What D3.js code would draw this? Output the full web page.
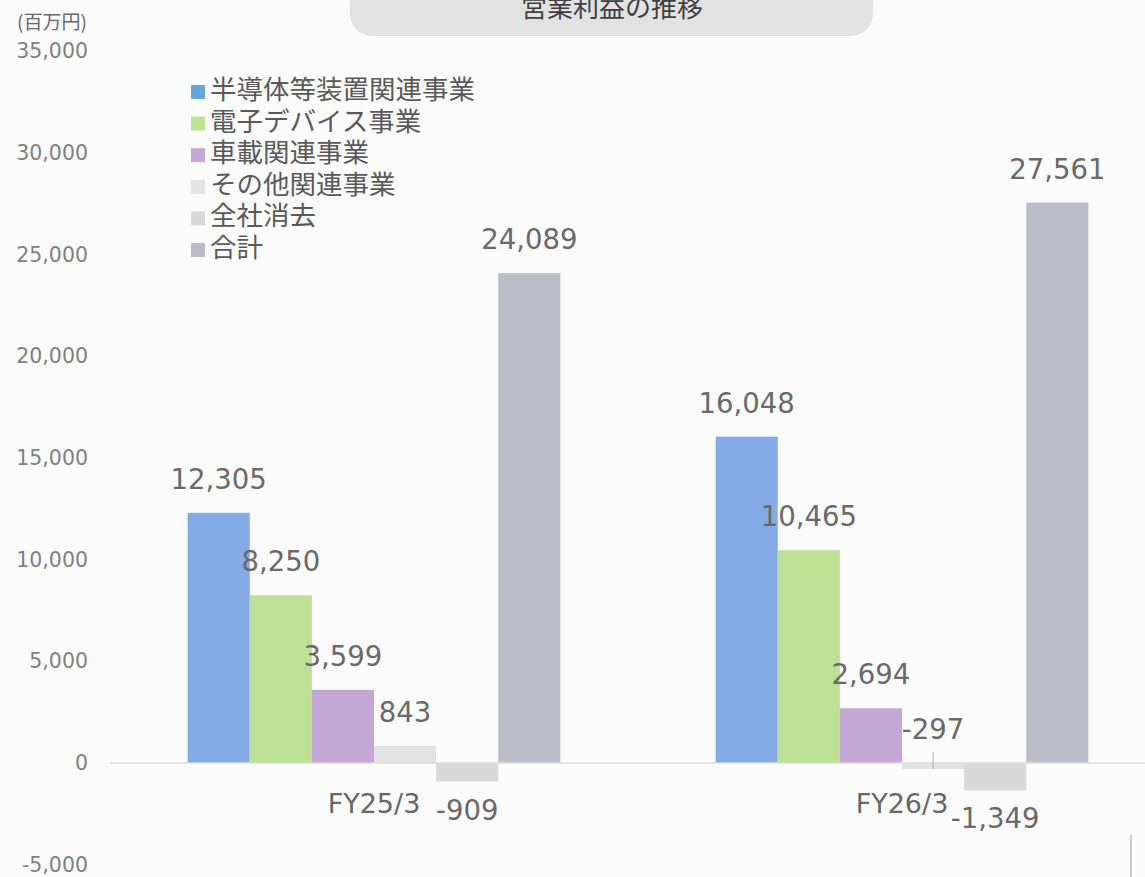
<!DOCTYPE html>
<html><head><meta charset="utf-8">
<script src="https://cdn.jsdelivr.net/npm/d3@7"></script>
<style>
html,body{margin:0;padding:0;background:#fcfcfc;}
svg{display:block;}
</style></head>
<body>
<script>
const categories = ["FY25/3", "FY26/3"];
const seriesNames = ["半導体等装置関連事業", "電子デバイス事業", "車載関連事業", "その他関連事業", "全社消去", "合計"];
const semiconductor = [12305, 16048];
const electronicDevices = [8250, 10465];
const automotive = [3599, 2694];
const otherBusiness = [843, -297];
const elimination = [-909, -1349];
const total = [24089, 27561];
const yTicks = [-5000, 0, 5000, 10000, 15000, 20000, 25000, 30000, 35000];
const barColors = ["#84abe6", "#bde295", "#c4a9d6", "#e3e3e3", "#d9d9d9", "#bbbec7"];
const legendColors = ["#63a7d9", "#bde396", "#c5a9d6", "#e4e4e4", "#d9d9d9", "#babdc6"];

const seriesValues = [semiconductor, electronicDevices, automotive, otherBusiness, elimination, total];

const W = 1145, H = 877;
const svg = d3.select("body").append("svg").attr("width", W).attr("height", H);
svg.append("rect").attr("width", W).attr("height", H).attr("fill", "#fcfcfc");

const fmt = d3.formatLocale({decimal: ".", thousands: ",", grouping: [3], currency: ["", ""], minus: "-"}).format(",");

const y = d3.scaleLinear().domain([-5000, 35000]).range([864.7, 51.3]);
const x0 = d3.scaleBand().domain(categories).range([110, 1166]).paddingInner(0.294).paddingOuter(0.147);
const x1 = d3.scaleBand().domain(seriesNames).range([0, x0.bandwidth()]);

// title pill
svg.append("rect").attr("x", 350).attr("y", -40).attr("width", 523).attr("height", 76)
  .attr("rx", 22).attr("fill", "#e3e3e3");
svg.append("text").attr("x", 612).attr("y", 17).attr("text-anchor", "middle")
  .attr("font-family", "'Noto Sans CJK JP'").attr("font-size", 26).attr("fill", "#404040")
  .text("営業利益の推移");

// unit label
svg.append("text").attr("x", 17).attr("y", 29)
  .attr("font-family", "'Noto Sans CJK JP'").attr("font-size", 19).attr("fill", "#666")
  .text("(百万円)");

// y axis
const yAxis = svg.append("g").attr("transform", "translate(96,0)")
  .call(d3.axisLeft(y).tickValues(yTicks).tickSize(0).tickPadding(8).tickFormat(fmt));
yAxis.select(".domain").remove();
yAxis.selectAll("text").attr("font-family", "'DejaVu Sans'").attr("font-size", 20.5).attr("fill", "#808080");

// bars
const rows = [];
categories.forEach((c, ci) => {
  seriesNames.forEach((s, si) => rows.push({cat: c, series: s, si, value: seriesValues[si][ci]}));
});

svg.append("g").selectAll("rect").data(rows).join("rect")
  .attr("x", d => x0(d.cat) + x1(d.series))
  .attr("y", d => y(Math.max(0, d.value)))
  .attr("width", x1.bandwidth())
  .attr("height", d => Math.abs(y(d.value) - y(0)))
  .attr("fill", d => barColors[d.si]);

// zero line
svg.append("line").attr("x1", 110).attr("x2", W).attr("y1", y(0)).attr("y2", y(0))
  .attr("stroke", "#dedede").attr("stroke-width", 1.5);

// x axis labels
const xAxis = svg.append("g").attr("transform", `translate(0,${y(0)})`)
  .call(d3.axisBottom(x0).tickSize(0).tickPadding(31));
xAxis.select(".domain").remove();
xAxis.selectAll("text").attr("font-family", "'DejaVu Sans'").attr("font-size", 27).attr("fill", "#666");

// leader line for small negative label
rows.filter(d => d.value < 0 && d.value > -500).forEach(d => {
  const cx = x0(d.cat) + x1(d.series) + x1.bandwidth() / 2;
  svg.append("line").attr("x1", cx).attr("x2", cx).attr("y1", y(0) - 11).attr("y2", y(0) + 6)
    .attr("stroke", "#aaaaaa").attr("stroke-width", 1);
});

// value labels
svg.append("g").selectAll("text").data(rows).join("text")
  .attr("x", d => x0(d.cat) + x1(d.series) + x1.bandwidth() / 2)
  .attr("y", d => {
    if (d.value < -500) return y(d.value) + 38;
    return y(Math.max(0, d.value)) - 24;
  })
  .attr("text-anchor", "middle")
  .attr("font-family", "'DejaVu Sans'").attr("font-size", 27.5).attr("fill", "#696969")
  .text(d => fmt(d.value));

// legend
const legend = svg.append("g");
seriesNames.forEach((s, i) => {
  const cy = 92 + i * 31.6;
  legend.append("rect").attr("x", 191).attr("y", cy - 7).attr("width", 14).attr("height", 14)
    .attr("fill", legendColors[i]);
  legend.append("text").attr("x", 210).attr("y", cy + 7)
    .attr("font-family", "'Noto Sans CJK JP'").attr("font-size", 26.5).attr("fill", "#595959")
    .text(s);
});

// stray vertical mark at lower right
svg.append("line").attr("x1", 1131).attr("x2", 1131).attr("y1", 835).attr("y2", H)
  .attr("stroke", "#9a9a9a").attr("stroke-width", 1);
</script>
</body></html>
